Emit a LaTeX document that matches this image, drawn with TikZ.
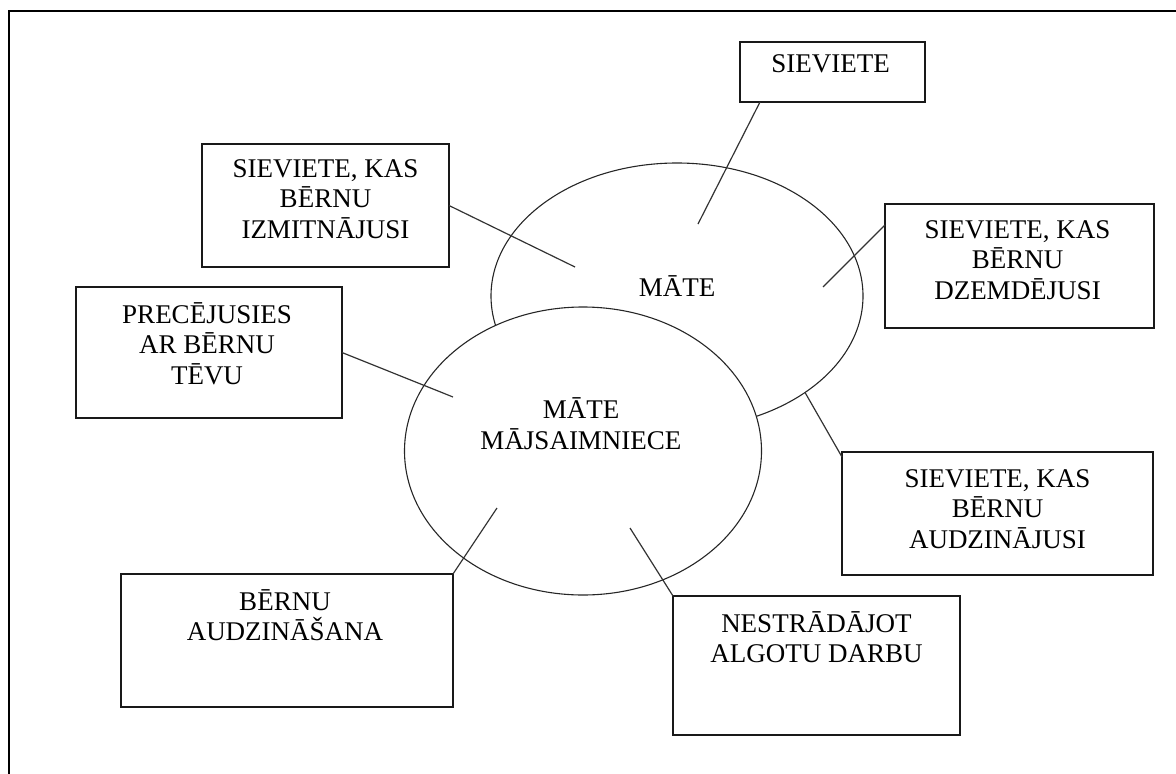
\documentclass[tikz,border=0pt]{standalone}
\usepackage{fontspec}
\setmainfont{Liberation Serif}
\usetikzlibrary{shapes.geometric,calc}
\begin{document}
\begin{tikzpicture}[x=1pt,y=-1pt,
  box/.style={draw=black!90, line width=1.4pt, rectangle, inner sep=0pt, outer sep=0pt, anchor=north west},
  oval/.style={draw=black!85, line width=1.1pt, ellipse, inner sep=0pt, outer sep=0pt},
  lbl/.style={align=center, inner sep=0pt, anchor=base, text=black, font=\fontsize{27}{30.5}\selectfont},
  conn/.style={draw=black!80, line width=1.2pt}]
\useasboundingbox (0,0) rectangle (1176,774);
\draw[line width=2pt, black] (8.5,774) -- (8.5,10.5) -- (1176,10.5);

% ellipses
\node[oval, minimum width=372pt, minimum height=266pt] (mate) at (677,296) {};
\node[oval, fill=white, minimum width=357pt, minimum height=288pt] (maja) at (583,451) {};
\node[lbl] (tmate) at (677,296) {MĀTE};
\node[lbl] (tmaja) at (581,449) {MĀTE\\MĀJSAIMNIECE};

% boxes
\node[box, minimum width=185pt, minimum height=60pt] (b1) at (740,42) {};
\node[box, minimum width=247pt, minimum height=123pt] (b2) at (202,144) {};
\node[box, minimum width=269pt, minimum height=124pt] (b3) at (885,204) {};
\node[box, minimum width=266pt, minimum height=131pt] (b4) at (76,287) {};
\node[box, minimum width=311pt, minimum height=123pt] (b5) at (842,452) {};
\node[box, minimum width=332pt, minimum height=133pt] (b6) at (121,574) {};
\node[box, minimum width=287pt, minimum height=139pt] (b7) at (673,596) {};

% labels (anchor base = baseline of last line)
\node[lbl] (t1) at ($(b1.north)+(-2,30)$) {SIEVIETE};
\node[lbl] (t2) at ($(b2.north)+(0,94)$) {SIEVIETE, KAS\\BĒRNU\\IZMITNĀJUSI};
\node[lbl] (t3) at ($(b3.north)+(-2,95)$) {SIEVIETE, KAS\\BĒRNU\\DZEMDĒJUSI};
\node[lbl] (t4) at ($(b4.north)+(-2,97)$) {PRECĒJUSIES\\AR BĒRNU\\TĒVU};
\node[lbl] (t5) at ($(b5.north)+(0,96)$) {SIEVIETE, KAS\\BĒRNU\\AUDZINĀJUSI};
\node[lbl] (t6) at ($(b6.north)+(-2,66.5)$) {BĒRNU\\AUDZINĀŠANA};
\node[lbl] (t7) at ($(b7.north)+(0,66.5)$) {NESTRĀDĀJOT\\ALGOTU DARBU};

% free ends
\coordinate (e1) at (698,224);
\coordinate (e2) at (575,267);
\coordinate (e3) at (823,287);
\coordinate (e4) at (453,397);
\coordinate (e6) at (497,508);
\coordinate (e7) at (630,528);

% connectors
\draw[conn] ($(b1.south west)+(20,0)$) -- (e1);
\draw[conn] (b2.east) -- (e2);
\draw[conn] ($(b3.north west)+(0,21)$) -- (e3);
\draw[conn] (b4.east) -- (e4);
\draw[conn] ($(b5.north west)+(0,5)$) -- (mate.-37.6);
\draw[conn] (b6.north east) -- (e6);
\draw[conn] (b7.north west) -- (e7);
\end{tikzpicture}
\end{document}
